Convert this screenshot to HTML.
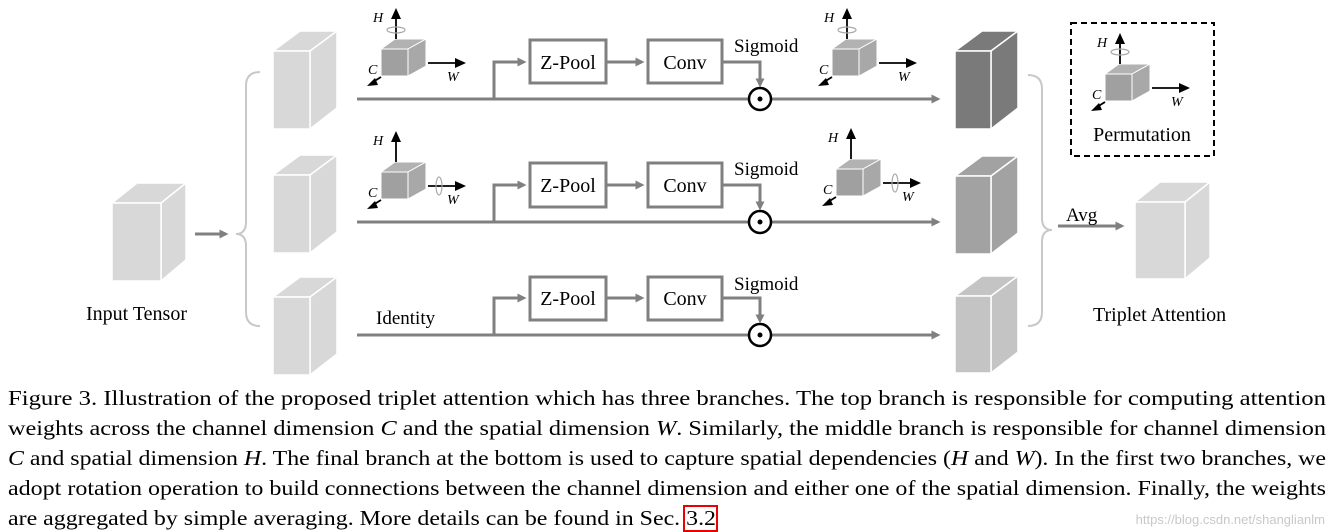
<!DOCTYPE html>
<html><head><meta charset="utf-8"><style>
html,body{margin:0;padding:0;background:#fff;}
svg{display:block;font-family:"Liberation Serif",serif;}
</style></head><body>
<svg width="1333" height="532" viewBox="0 0 1333 532" xmlns="http://www.w3.org/2000/svg">
<defs>
<marker id="ga" viewBox="0 0 10 10" refX="9" refY="5" markerWidth="5" markerHeight="5" orient="auto" markerUnits="userSpaceOnUse" style="overflow:visible"><path d="M-4,-4 L14,5 L-4,14 Z" fill="#808080"/></marker>
<g id="axes">
  <path d="M0,0 L27,0 L27,27 L0,27 Z" fill="#a0a0a0" stroke="#fff" stroke-width="1"/>
  <path d="M0,0 L14,-10 L45,-10 L27,0 Z" fill="#b2b2b2" stroke="#fff" stroke-width="1"/>
  <path d="M27,0 L45,-10 L45,17 L27,27 Z" fill="#a8a8a8" stroke="#fff" stroke-width="1"/>
  <line x1="15" y1="-10" x2="15" y2="-32" stroke="#000" stroke-width="1.8"/>
  <path d="M10,-30 L15,-41 L20,-30 Z" fill="#000"/>
  <line x1="47" y1="14" x2="76" y2="14" stroke="#000" stroke-width="1.8"/>
  <path d="M74,9 L85,14 L74,19 Z" fill="#000"/>
  <line x1="0" y1="28" x2="-8" y2="33" stroke="#000" stroke-width="1.8"/>
  <path d="M-6,29 L-14,37 L-3,36 Z" fill="#000"/>
  <text x="-8" y="-27" font-size="14" font-style="italic">H</text>
  <text x="-13" y="25" font-size="14" font-style="italic">C</text>
  <text x="66" y="32" font-size="14" font-style="italic">W</text>
</g>
</defs>

<!-- input cube -->
<g stroke="#fff" stroke-width="1.5">
<path d="M112,203 L137,183 L186,183 L161,203 Z" fill="#d8d8d8"/>
<path d="M161,203 L186,183 L186,260 L161,281 Z" fill="#d8d8d8"/>
<rect x="112" y="203" width="49" height="78" fill="#d8d8d8"/>
</g>
<line x1="195" y1="234" x2="226" y2="234" stroke="#808080" stroke-width="3" marker-end="url(#ga)"/>
<text x="86" y="320" font-size="20">Input Tensor</text>

<!-- left brace -->
<path d="M260,72 Q246,72 246,86 L246,222 Q246,234 236,234 Q246,234 246,246 L246,312 Q246,326 260,326" fill="none" stroke="#c8c8c8" stroke-width="2"/>

<!-- branch cubes -->
<g stroke="#fff" stroke-width="1.5" fill="#d8d8d8">
<path d="M273,51 L300,31 L337,31 L310,51 Z"/><path d="M310,51 L337,31 L337,108 L310,129 Z"/><rect x="273" y="51" width="37" height="78"/>
<path d="M273,175 L300,155 L337,155 L310,175 Z"/><path d="M310,175 L337,155 L337,232 L310,253 Z"/><rect x="273" y="175" width="37" height="78"/>
<path d="M273,297 L300,277 L337,277 L310,297 Z"/><path d="M310,297 L337,277 L337,354 L310,375 Z"/><rect x="273" y="297" width="37" height="78"/>
</g>

<!-- axes icons -->
<use href="#axes" x="381" y="49"/>
<use href="#axes" x="381" y="172"/>
<use href="#axes" x="832" y="49"/>
<use href="#axes" x="836" y="169"/>
<use href="#axes" x="1105" y="74"/>
<g fill="none" stroke="#aaa" stroke-width="1.2">
<ellipse cx="396" cy="30" rx="9" ry="3"/>
<ellipse cx="847" cy="30" rx="9" ry="3"/>
<ellipse cx="1120" cy="52" rx="9" ry="3"/>
<ellipse cx="439" cy="186" rx="3" ry="9"/>
<ellipse cx="895" cy="183" rx="3" ry="9"/>
</g>

<!-- branches -->
<g stroke="#808080" stroke-width="3" fill="none">
<line x1="357" y1="99" x2="938" y2="99" marker-end="url(#ga)"/>
<path d="M494,99 L494,62 L524,62" marker-end="url(#ga)"/>
<line x1="606" y1="62" x2="642" y2="62" marker-end="url(#ga)"/>
<path d="M722,62 L760,62 L760,85" marker-end="url(#ga)"/>
<line x1="357" y1="222" x2="938" y2="222" marker-end="url(#ga)"/>
<path d="M494,222 L494,185 L524,185" marker-end="url(#ga)"/>
<line x1="606" y1="185" x2="642" y2="185" marker-end="url(#ga)"/>
<path d="M722,185 L760,185 L760,208" marker-end="url(#ga)"/>
<line x1="357" y1="335" x2="938" y2="335" marker-end="url(#ga)"/>
<path d="M494,335 L494,298 L524,298" marker-end="url(#ga)"/>
<line x1="606" y1="298" x2="642" y2="298" marker-end="url(#ga)"/>
<path d="M722,298 L760,298 L760,321" marker-end="url(#ga)"/>
</g>
<g fill="#fff" stroke="#808080" stroke-width="3">
<rect x="530" y="40" width="76" height="43"/><rect x="648" y="40" width="74" height="43"/>
<rect x="530" y="163" width="76" height="44"/><rect x="648" y="163" width="74" height="44"/>
<rect x="530" y="277" width="76" height="43"/><rect x="648" y="277" width="74" height="43"/>
</g>
<g font-size="20" text-anchor="middle">
<text x="568" y="69">Z-Pool</text><text x="685" y="69">Conv</text>
<text x="568" y="192">Z-Pool</text><text x="685" y="192">Conv</text>
<text x="568" y="305">Z-Pool</text><text x="685" y="305">Conv</text>
</g>
<g font-size="19">
<text x="734" y="52">Sigmoid</text><text x="734" y="175">Sigmoid</text><text x="734" y="290">Sigmoid</text>
<text x="376" y="324">Identity</text>
</g>
<g fill="#fff" stroke="#000" stroke-width="2.5">
<circle cx="760" cy="99" r="11"/><circle cx="760" cy="222" r="11"/><circle cx="760" cy="335" r="11"/>
</g>
<g fill="#000"><circle cx="760" cy="99" r="2.5"/><circle cx="760" cy="222" r="2.5"/><circle cx="760" cy="335" r="2.5"/></g>

<!-- output cubes -->
<g stroke="#fff" stroke-width="1.5">
<g fill="#7a7a7a"><path d="M955,51 L982,31 L1018,31 L991,51 Z"/><path d="M991,51 L1018,31 L1018,108 L991,129 Z"/><rect x="955" y="51" width="36" height="78"/></g>
<g fill="#a2a2a2"><path d="M955,176 L982,156 L1018,156 L991,176 Z"/><path d="M991,176 L1018,156 L1018,233 L991,254 Z"/><rect x="955" y="176" width="36" height="78"/></g>
<g fill="#c4c4c4"><path d="M955,296 L982,276 L1018,276 L991,296 Z"/><path d="M991,296 L1018,276 L1018,352 L991,373 Z"/><rect x="955" y="296" width="36" height="77"/></g>
<g fill="#d8d8d8"><path d="M1135,202 L1160,182 L1210,182 L1185,202 Z"/><path d="M1185,202 L1210,182 L1210,258 L1185,279 Z"/><rect x="1135" y="202" width="50" height="77"/></g>
</g>

<!-- right brace -->
<path d="M1028,75 Q1042,75 1042,89 L1042,218 Q1042,230 1052,230 Q1042,230 1042,242 L1042,312 Q1042,326 1028,326" fill="none" stroke="#c8c8c8" stroke-width="2"/>
<line x1="1058" y1="226" x2="1122" y2="226" stroke="#808080" stroke-width="3" marker-end="url(#ga)"/>
<text x="1066" y="221" font-size="19">Avg</text>
<text x="1093" y="321" font-size="20">Triplet Attention</text>

<!-- permutation box -->
<rect x="1071" y="23" width="143" height="133" fill="none" stroke="#000" stroke-width="2" stroke-dasharray="6,4"/>
<text x="1142" y="141" font-size="20" text-anchor="middle">Permutation</text>

<!-- caption -->
<g font-size="21">
<text x="8" y="405" textLength="1318" lengthAdjust="spacingAndGlyphs">Figure 3. Illustration of the proposed triplet attention which has three branches.  The top branch is responsible for computing attention</text>
<text x="8" y="435" textLength="1318" lengthAdjust="spacingAndGlyphs">weights across the channel dimension <tspan font-style="italic">C</tspan> and the spatial dimension <tspan font-style="italic">W</tspan>. Similarly, the middle branch is responsible for channel dimension</text>
<text x="8" y="465" textLength="1318" lengthAdjust="spacingAndGlyphs"><tspan font-style="italic">C</tspan> and spatial dimension <tspan font-style="italic">H</tspan>. The final branch at the bottom is used to capture spatial dependencies (<tspan font-style="italic">H</tspan> and <tspan font-style="italic">W</tspan>). In the first two branches, we</text>
<text x="8" y="495" textLength="1318" lengthAdjust="spacingAndGlyphs">adopt rotation operation to build connections between the channel dimension and either one of the spatial dimension. Finally, the weights</text>
<text x="8" y="525" textLength="708" lengthAdjust="spacingAndGlyphs">are aggregated by simple averaging. More details can be found in Sec. 3.2</text>
</g>
<rect x="684" y="506" width="33" height="25" fill="none" stroke="#e00" stroke-width="2"/>
<text x="1325" y="524" font-size="13" fill="#c8c8c8" text-anchor="end" font-family="Liberation Sans,sans-serif">https://blog.csdn.net/shanglianlm</text>
</svg>
</body></html>
